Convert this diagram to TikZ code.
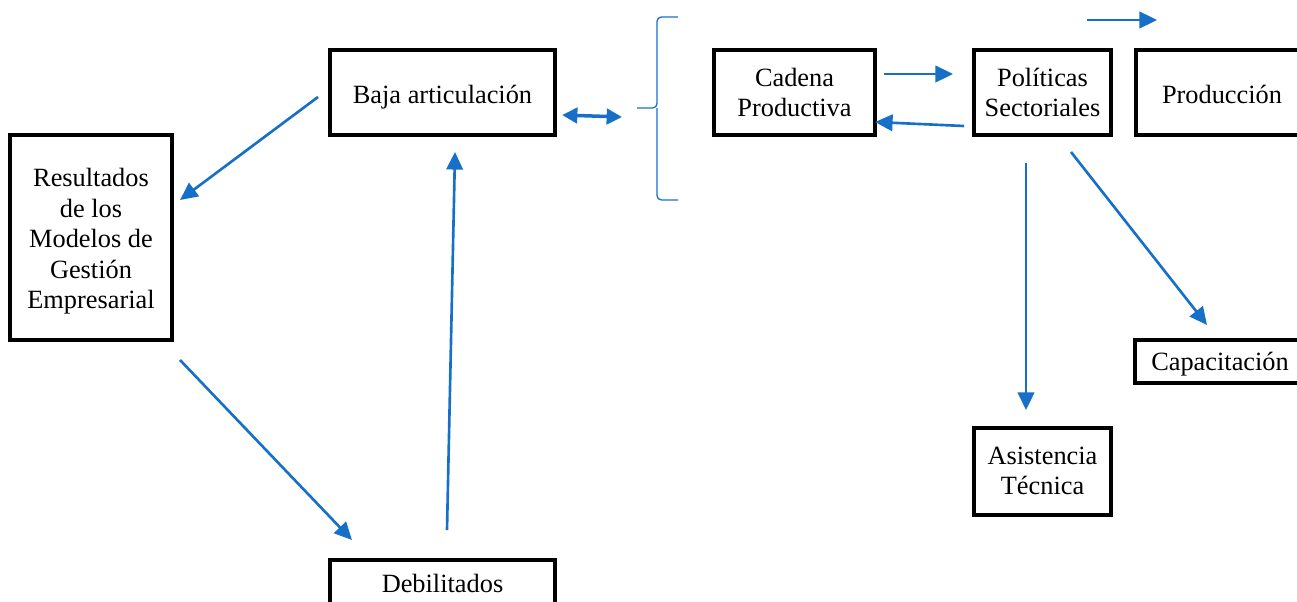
\documentclass[tikz,border=0pt]{standalone}
\usepackage{fontspec}
\setmainfont{Liberation Serif}
\usetikzlibrary{positioning, arrows.meta, calc}
\definecolor{azul}{HTML}{1670C8}
\newlength{\pxu}\setlength{\pxu}{0.016cm} % one pixel of the reference
\newcommand{\bajar}[2]{\raisebox{-#1\pxu}[\height][\depth]{#2}} % nudge a text down
\tikzset{
    caja/.style={ % Sets the properties for each box
        draw,
        line width=1.5pt,
        align=center,
        inner sep=0pt,
        font=\fontsize{12}{13.9}\selectfont
    },
    flecha/.style={ % Blue arrows between the boxes
        draw=azul,
        line width=1.2pt,
        -{Triangle[length=8pt,width=7.5pt]}
    },
    llave/.style={ % The brace left of Cadena Productiva
        draw=azul,
        line width=0.6pt,
        rounded corners=2pt
    },
}

\begin{document}
\begin{tikzpicture}[x=0.016cm, y=-0.016cm]
    \useasboundingbox (0,0) rectangle (1297,601);
    \node[caja, minimum width=3.6cm, minimum height=1.36cm]     (baja)  at (442.5,92.5)  {\bajar{5}{Baja articulación}};
    \node[caja, minimum width=2.592cm, minimum height=3.28cm]   (res)   at (91,237.5)
        {\bajar{4}{\begin{tabular}{@{}c@{}}Resultados\\de los\\Modelos de\\Gestión\\Empresarial\end{tabular}}};
    \node[caja, minimum width=3.6cm, minimum height=0.8cm]      (deb)   at (442.5,585)   {\bajar{-2}{Debilitados}};
    \node[caja, minimum width=2.576cm, minimum height=1.36cm]   (cad)   at (794.5,92.5)  {Cadena\\Productiva};
    \node[caja, minimum width=2.192cm, minimum height=1.36cm]   (pol)   at (1042.5,92.5) {Políticas\\Sectoriales};
    \node[caja, minimum width=2.752cm, minimum height=1.36cm]   (prod)  at (1222,92.5)   {\bajar{2}{Producción}};
    \node[caja, minimum width=2.72cm, minimum height=0.688cm]   (cap)   at (1220,361.5)  {\bajar{3}{Capacitación}};
    \node[caja, minimum width=2.192cm, minimum height=1.392cm]  (asis)  at (1042.5,471.5) {\bajar{2}{\begin{tabular}{@{}c@{}}Asistencia\\Técnica\end{tabular}}};
    % arrow ends
    \coordinate (bajaA) at (318,97);   \coordinate (resA)  at (180,200);
    \coordinate (resB)  at (180,360);  \coordinate (debA)  at (352,540);
    \coordinate (debB)  at (447,530);  \coordinate (bajaB) at (455,152);
    \coordinate (bajaC) at (562,115);  \coordinate (llA)   at (622,117);
    \coordinate (cadA)  at (884,74);   \coordinate (polA)  at (953,74);
    \coordinate (polB)  at (964,126);  \coordinate (cadB)  at (875,122);
    \coordinate (topA)  at (1087,20);  \coordinate (topB)  at (1157,20);
    \coordinate (polC)  at (1026,163); \coordinate (asisA) at (1026,410);
    \coordinate (polD)  at (1071,152); \coordinate (capA)  at (1207,325);
    \coordinate (llTop) at (678,17);   \coordinate (llBot) at (678,200);
    \coordinate (llTip) at (637,108);
    \draw[flecha]   (bajaA) -- (resA);
    \draw[flecha]   (resB) -- (debA);
    \draw[flecha]   (debB) -- (bajaB);
    \draw[flecha, line width=1.6pt, {Triangle[length=7pt,width=7pt]}-{Triangle[length=7pt,width=7pt]}]
                    (bajaC) -- (llA);
    \draw[flecha]   (cadA) -- (polA);
    \draw[flecha]   (polB) -- (cadB);
    \draw[flecha]   (topA) -- (topB);
    \draw[flecha]   (polC) -- (asisA);
    \draw[flecha]   (polD) -- (capA);
    % brace
    \draw[llave]    (llTop) -- (657,17) -- (657,108) -- (llTip);
    \draw[llave]    (llBot) -- (657,200) -- (657,108);
\end{tikzpicture}
\end{document}
